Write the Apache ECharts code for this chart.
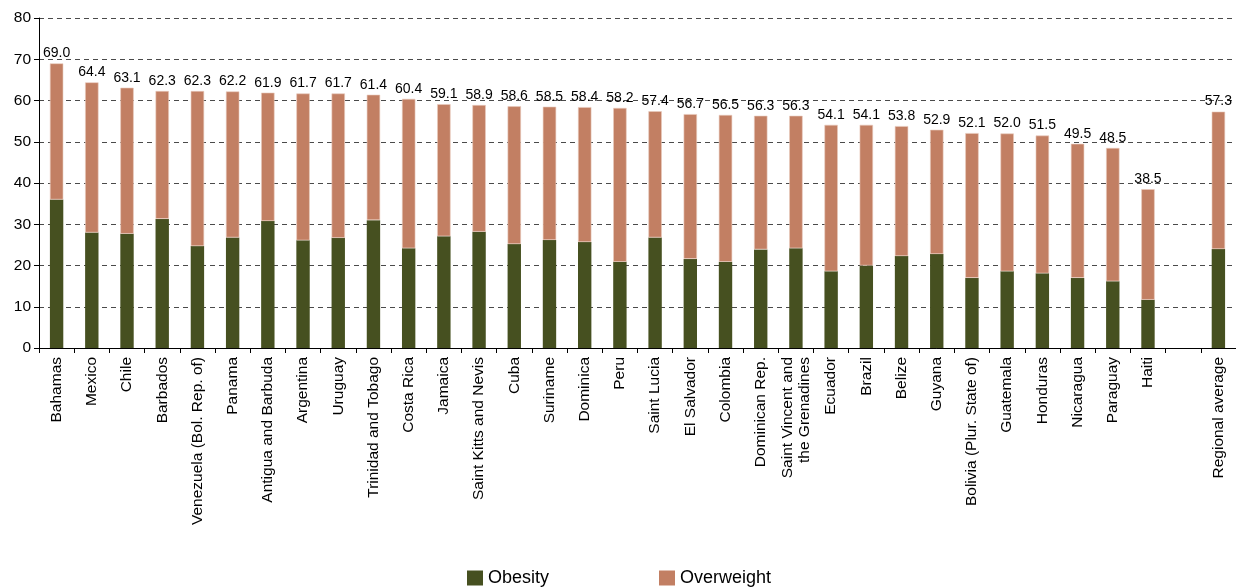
<!DOCTYPE html>
<html>
<head>
<meta charset="utf-8">
<style>
  html, body { margin: 0; padding: 0; background: #fff; }
  #chart { width: 1236px; height: 587px; }
</style>
<script src="https://cdn.jsdelivr.net/npm/echarts@6/dist/echarts.min.js"></script>
</head>
<body>
<div id="chart"></div>
<script>
// Countries (plus a blank spacer slot before the regional average)
const categories = [
  'Bahamas', 'Mexico', 'Chile', 'Barbados', 'Venezuela (Bol. Rep. of)', 'Panama',
  'Antigua and Barbuda', 'Argentina', 'Uruguay', 'Trinidad and Tobago', 'Costa Rica',
  'Jamaica', 'Saint Kitts and Nevis', 'Cuba', 'Suriname', 'Dominica', 'Peru',
  'Saint Lucia', 'El Salvador', 'Colombia', 'Dominican Rep.',
  'Saint Vincent and\nthe Grenadines', 'Ecuador', 'Brazil', 'Belize', 'Guyana',
  'Bolivia (Plur. State of)', 'Guatemala', 'Honduras', 'Nicaragua', 'Paraguay',
  'Haiti', '', 'Regional average'
];

// Obesity share (%)
const obesity = [
  36.0, 28.0, 27.7, 31.3, 24.7, 26.8, 30.8, 26.1, 26.7, 31.0, 24.2,
  27.1, 28.2, 25.2, 26.2, 25.7, 20.9, 26.8, 21.6, 20.9, 23.9,
  24.2, 18.6, 20.0, 22.3, 22.8, 17.0, 18.6, 18.1, 17.0, 16.2,
  11.7, null, 24.0
];

// Overweight including obesity (%), shown as the label above each bar
const totals = [
  69.0, 64.4, 63.1, 62.3, 62.3, 62.2, 61.9, 61.7, 61.7, 61.4, 60.4,
  59.1, 58.9, 58.6, 58.5, 58.4, 58.2, 57.4, 56.7, 56.5, 56.3,
  56.3, 54.1, 54.1, 53.8, 52.9, 52.1, 52.0, 51.5, 49.5, 48.5,
  38.5, null, 57.3
];

const yTicks = { min: 0, max: 80, interval: 10 };

// Overweight segment = total minus the obesity part
const overweight = totals.map((t, i) =>
  t == null ? null : Math.round((t - obesity[i]) * 10) / 10);

const FONT = "'Liberation Sans', Arial, Helvetica, sans-serif";

const chart = echarts.init(document.getElementById('chart'), null, { renderer: 'canvas' });

chart.setOption({
  animation: false,
  backgroundColor: '#ffffff',
  textStyle: { fontFamily: FONT, color: '#000' },
  grid: { left: 39, right: -8, top: 18, bottom: 239, containLabel: false },
  legend: {
    left: 467,
    top: 569,
    padding: 0,
    itemWidth: 16,
    itemHeight: 15,
    itemGap: 110,
    icon: 'rect',
    itemStyle: { borderWidth: 0 },
    textStyle: { fontFamily: FONT, fontSize: 18, color: '#000' },
    data: ['Obesity', 'Overweight']
  },
  xAxis: {
    type: 'category',
    data: categories,
    boundaryGap: true,
    axisLine: { lineStyle: { color: '#000', width: 1 } },
    axisTick: { show: true, length: 5, alignWithLabel: false, interval: 0, lineStyle: { color: '#000' } },
    axisLabel: {
      interval: 0,
      rotate: 90,
      margin: 9,
      fontFamily: FONT,
      fontSize: 15.5,
      lineHeight: 17,
      color: '#000'
    },
    splitLine: { show: false }
  },
  yAxis: {
    type: 'value',
    min: yTicks.min,
    max: yTicks.max,
    interval: yTicks.interval,
    axisLine: { show: true, lineStyle: { color: '#000', width: 1 } },
    axisTick: { show: true, length: 5, lineStyle: { color: '#000' } },
    axisLabel: { margin: 8, fontFamily: FONT, fontSize: 15.5, color: '#000' },
    splitLine: {
      show: true,
      lineStyle: { color: '#4a4a4a', width: 1, type: [5, 4] }
    }
  },
  series: [
    {
      name: 'Obesity',
      type: 'bar',
      stack: 'bmi',
      barWidth: '38%',
      data: obesity,
      itemStyle: { color: '#465020' }
    },
    {
      name: 'Overweight',
      type: 'bar',
      stack: 'bmi',
      barWidth: '38%',
      data: overweight,
      itemStyle: { color: '#C27F63', borderColor: '#e9cbbd', borderWidth: 0.6 },
      label: {
        show: true,
        position: 'top',
        distance: 3,
        fontFamily: FONT,
        fontSize: 14,
        color: '#000',
        formatter: p => (totals[p.dataIndex] == null ? '' : totals[p.dataIndex].toFixed(1))
      }
    }
  ]
});
</script>
</body>
</html>
